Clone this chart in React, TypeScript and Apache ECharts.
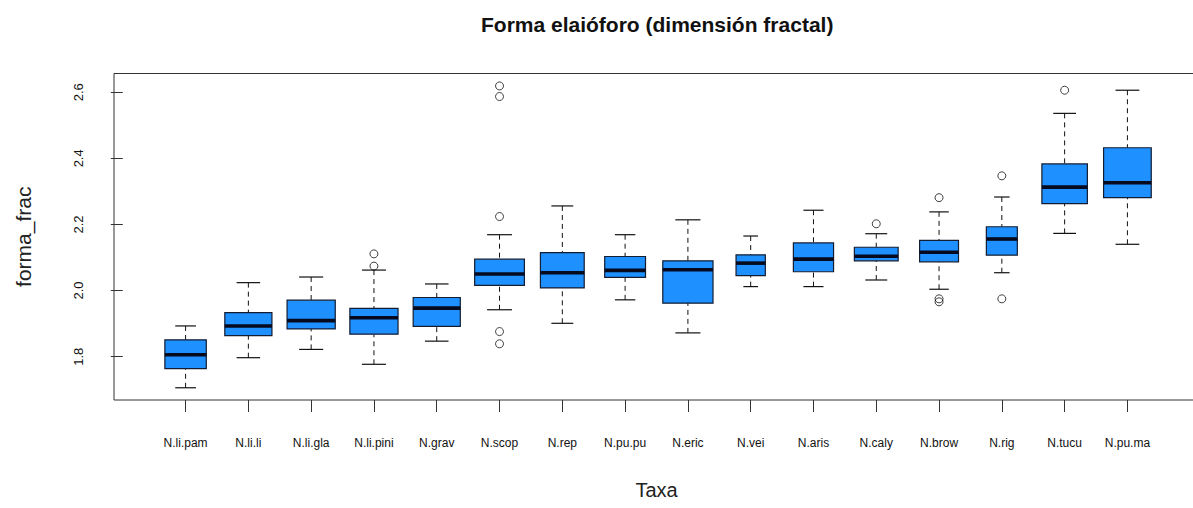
import React, { useEffect, useRef } from "react";
import * as echarts from "echarts";

const categories = [
  "N.li.pam", "N.li.li", "N.li.gla", "N.li.pini", "N.grav", "N.scop", "N.rep", "N.pu.pu",
  "N.eric", "N.vei", "N.aris", "N.caly", "N.brow", "N.rig", "N.tucu", "N.pu.ma",
];
const whiskerLow = [1.706, 1.797, 1.822, 1.777, 1.847, 1.942, 1.901, 1.972, 1.872, 2.012, 2.012, 2.032, 2.004, 2.054, 2.173, 2.140];
const quartile1 = [1.764, 1.864, 1.884, 1.868, 1.892, 2.016, 2.008, 2.040, 1.962, 2.045, 2.057, 2.090, 2.087, 2.107, 2.263, 2.281];
const medians = [1.806, 1.893, 1.909, 1.918, 1.947, 2.050, 2.054, 2.061, 2.063, 2.083, 2.095, 2.104, 2.116, 2.156, 2.313, 2.326];
const quartile3 = [1.851, 1.933, 1.971, 1.946, 1.979, 2.095, 2.115, 2.103, 2.090, 2.108, 2.144, 2.131, 2.152, 2.193, 2.383, 2.432];
const whiskerHigh = [1.893, 2.024, 2.041, 2.062, 2.020, 2.169, 2.256, 2.169, 2.214, 2.165, 2.243, 2.172, 2.238, 2.283, 2.536, 2.606];
const sampleSizes = [34, 44, 46, 46, 44, 49, 38, 33, 50, 17, 32, 38, 30, 19, 41, 45];

const outlierTaxon = [4, 4, 6, 6, 6, 6, 6, 12, 13, 13, 13, 14, 14, 15];
const outlierValue = [2.111, 2.074, 2.619, 2.587, 2.224, 1.876, 1.839, 2.202, 2.281, 1.975, 1.966, 2.347, 1.975, 2.606];

const yTicks = [1.8, 2.0, 2.2, 2.4, 2.6];
const xTicks = categories.map((_, i) => i + 1);

const FONT = "Liberation Sans, Arial, sans-serif";

export default function App() {
  const ref = useRef<HTMLDivElement>(null);

  useEffect(() => {
    if (!ref.current) return;
    const chart = echarts.init(ref.current, null, { renderer: "svg" });
    const maxN = Math.max(...sampleSizes);
    const boxData = categories.map((_, i) => [
      i + 1,
      whiskerLow[i],
      quartile1[i],
      medians[i],
      quartile3[i],
      whiskerHigh[i],
      0.8 * Math.sqrt(sampleSizes[i] / maxN),
    ]);
    const outliers = outlierTaxon.map((t, i) => [t, outlierValue[i]]);

    chart.setOption({
      animation: false,
      backgroundColor: "#ffffff",
      title: {
        text: "Forma elaióforo (dimensión fractal)",
        left: 476,
        top: 9,
        padding: 5,
        textStyle: { fontFamily: FONT, fontSize: 21, fontWeight: "bold", color: "#111" },
      },
      grid: {
        left: 114,
        top: 73.5,
        width: 1085,
        height: 326.5,
        show: true,
        borderColor: "#333",
        borderWidth: 1,
        backgroundColor: "transparent",
        containLabel: false,
        outerBoundsMode: "none",
      },
      xAxis: {
        type: "value",
        min: -0.14,
        max: 17.14,
        splitLine: { show: false },
        axisLine: { show: false },
        axisTick: { show: true, length: 12, customValues: xTicks, lineStyle: { color: "#333", width: 1 } },
        axisLabel: {
          customValues: xTicks,
          formatter: (v: number) => categories[Math.round(v) - 1] ?? "",
          fontFamily: FONT,
          fontSize: 12,
          color: "#111",
          margin: 37,
        },
        name: "Taxa",
        nameLocation: "middle",
        nameGap: 80,
        nameTextStyle: { fontFamily: FONT, fontSize: 20, color: "#222" },
      },
      yAxis: {
        type: "value",
        min: 1.669,
        max: 2.6566,
        splitLine: { show: false },
        axisLine: { show: false },
        axisTick: { show: true, length: 12, customValues: yTicks, lineStyle: { color: "#333", width: 1 } },
        axisLabel: {
          customValues: yTicks,
          formatter: (v: number) => v.toFixed(1),
          rotate: 90,
          fontFamily: FONT,
          fontSize: 13,
          color: "#111",
          margin: 29,
        },
        name: "forma_frac",
        nameLocation: "middle",
        nameRotate: 90,
        nameGap: 80,
        nameTextStyle: { fontFamily: FONT, fontSize: 21, color: "#222" },
      },
      series: [
        {
          type: "custom",
          data: boxData,
          encode: { x: 0, y: [1, 2, 3, 4, 5] },
          renderItem: (params: any, api: any) => {
            const x = api.value(0);
            const lo = api.coord([x, api.value(1)]);
            const p1 = api.coord([x, api.value(2)]);
            const pm = api.coord([x, api.value(3)]);
            const p3 = api.coord([x, api.value(4)]);
            const hi = api.coord([x, api.value(5)]);
            const w = api.size([api.value(6), 0])[0];
            const half = w / 2;
            const cap = w / 4;
            const cx = pm[0];
            const whiskerStyle = { stroke: "#111", lineWidth: 1, lineDash: [5, 4] };
            const capStyle = { stroke: "#111", lineWidth: 1.2 };
            return {
              type: "group",
              children: [
                { type: "line", shape: { x1: cx, y1: lo[1], x2: cx, y2: p1[1] }, style: whiskerStyle },
                { type: "line", shape: { x1: cx, y1: hi[1], x2: cx, y2: p3[1] }, style: whiskerStyle },
                { type: "line", shape: { x1: cx - cap, y1: lo[1], x2: cx + cap, y2: lo[1] }, style: capStyle },
                { type: "line", shape: { x1: cx - cap, y1: hi[1], x2: cx + cap, y2: hi[1] }, style: capStyle },
                {
                  type: "rect",
                  shape: { x: cx - half, y: p3[1], width: w, height: p1[1] - p3[1] },
                  style: { fill: "#1E90FF", stroke: "#141c30", lineWidth: 1.2 },
                },
                {
                  type: "line",
                  shape: { x1: cx - half, y1: pm[1], x2: cx + half, y2: pm[1] },
                  style: { stroke: "#050a1e", lineWidth: 3.6 },
                },
              ],
            };
          },
          z: 2,
        },
        {
          type: "scatter",
          data: outliers,
          symbol: "circle",
          symbolSize: 8,
          itemStyle: { color: "rgba(0,0,0,0)", borderColor: "#111", borderWidth: 1 },
          z: 3,
        },
      ],
    });
    return () => chart.dispose();
  }, []);

  return (
    <div
      ref={ref}
      style={{ position: "fixed", left: 0, top: 0, width: 1193, height: 508, background: "#fff" }}
    />
  );
}
